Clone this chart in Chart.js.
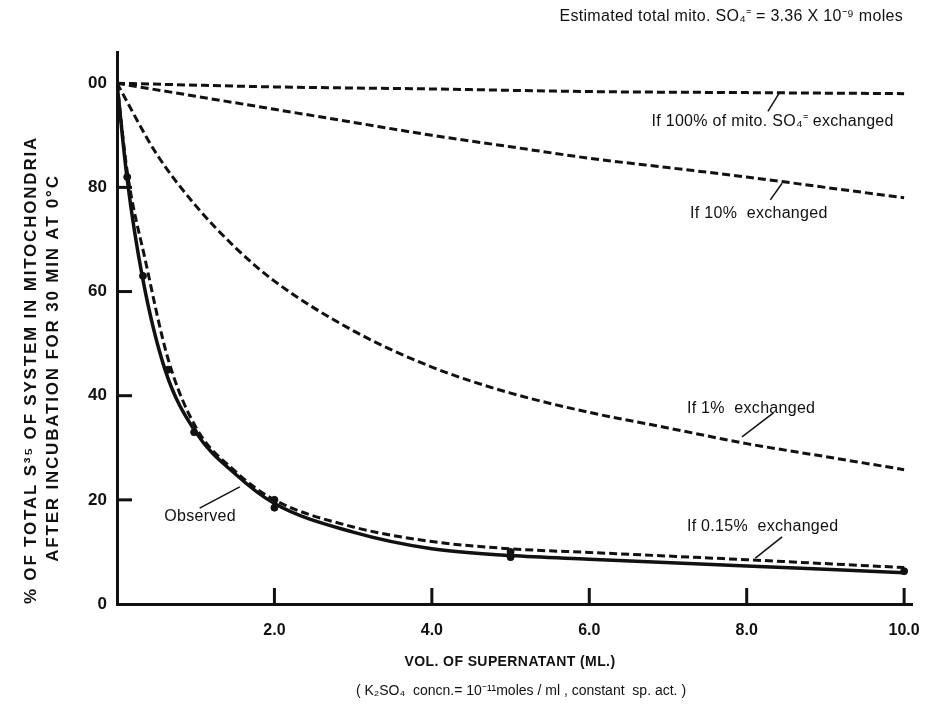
<!DOCTYPE html>
<html>
<head>
<meta charset="utf-8">
<script src="https://cdn.jsdelivr.net/npm/chart.js@4"></script>
<style>
  html, body { margin: 0; padding: 0; background: #fff; }
  #wrap { width: 941px; height: 704px; }
</style>
</head>
<body>
<div id="wrap"><canvas id="chart" width="941" height="704"></canvas></div>
<script>
// volume of supernatant (ml) and % of total S35 left in mitochondria
const vol100 = [0, 2, 4, 6, 8, 10];
const pct100 = [100, 99.3, 98.9, 98.4, 98.2, 98.0];

const vol10 = [0, 1, 2, 3, 4, 5, 6, 7, 8, 9, 10];
const pct10 = [100, 97.5, 95, 92.5, 90, 87.8, 85.6, 83.8, 82, 80, 78];

const vol1 = [0, 0.5, 1, 1.5, 2, 3, 4, 5, 6, 7, 8, 9, 10];
const pct1 = [100, 86.5, 76.5, 68.5, 62, 52.5, 45.5, 40.5, 36.8, 33.8, 30.8, 28.3, 25.8];

const vol015 = [0, 0.13, 0.36, 0.65, 1.0, 1.5, 2, 3, 4, 5, 6, 8, 10];
const pct015 = [100, 83, 66, 47, 34, 25.5, 20, 14.8, 12, 10.6, 9.9, 8.5, 7.0];

const volObs = [0, 0.13, 0.32, 0.61, 1.0, 1.5, 2, 3, 4, 5, 6, 8, 10];
const pctObs = [100, 81.5, 63, 45, 33, 25, 19.3, 13.8, 10.6, 9.3, 8.6, 7.3, 6];

// measured points on the observed curve
const ptVol = [0.13, 0.33, 0.65, 0.98, 2, 2, 5, 5, 10];
const ptPct = [82, 63, 45, 33, 20, 18.5, 10, 9, 6.3];

const xTicks = [2, 4, 6, 8, 10];
const xTickLabels = ['2.0', '4.0', '6.0', '8.0', '10.0'];
const yTicks = [0, 20, 40, 60, 80, 100];
const yTickLabels = ['0', '20', '40', '60', '80', '00'];

// leader lines from curve labels to the curves (data units)
const leaders = [
  [[8.42, 98.3], [8.27, 94.6]],
  [[8.45, 80.8], [8.30, 77.6]],
  [[8.34, 36.7], [7.94, 32.1]],
  [[8.45, 12.9], [8.11, 8.8]],
  [[1.56, 22.5], [1.05, 18.4]]
];

const curveLabels = [
  { text: 'If 100% of mito. SO\u2084\u207C exchanged', x: 6.79, y: 92.6 },
  { text: 'If 10%  exchanged', x: 7.28, y: 74.9 },
  { text: 'If 1%  exchanged', x: 7.24, y: 37.6 },
  { text: 'If 0.15%  exchanged', x: 7.24, y: 14.8 },
  { text: 'Observed', x: 0.60, y: 16.7 }
];

const zip = (xs, ys) => xs.map((x, i) => ({ x: x, y: ys[i] }));
const INK = '#111';
const FONT = '"Liberation Sans", Arial, sans-serif';

function dashed(data) {
  return {
    data: data,
    borderColor: INK,
    borderWidth: 3,
    borderDash: [8, 4],
    pointRadius: 0,
    cubicInterpolationMode: 'monotone',
    fill: false
  };
}

let datasets = [
  dashed(zip(vol100, pct100)),
  dashed(zip(vol10, pct10)),
  dashed(zip(vol1, pct1)),
  dashed(zip(vol015, pct015)),
  {
    data: zip(volObs, pctObs),
    borderColor: INK,
    borderWidth: 3.5,
    pointRadius: 0,
    cubicInterpolationMode: 'monotone',
    fill: false
  },
  {
    data: zip(ptVol, ptPct),
    showLine: false,
    pointRadius: 3.5,
    pointBackgroundColor: INK,
    pointBorderColor: INK
  }
];

leaders.forEach(l => datasets.push({
  data: l.map(p => ({ x: p[0], y: p[1] })),
  borderColor: INK,
  borderWidth: 1.5,
  pointRadius: 0,
  fill: false
}));

const decorations = {
  id: 'decorations',
  afterDraw(chart) {
    const ctx = chart.ctx;
    const xs = chart.scales.x, ys = chart.scales.y;
    const area = chart.chartArea;
    ctx.save();
    ctx.strokeStyle = INK;
    ctx.fillStyle = INK;
    ctx.lineWidth = 3;

    // inward tick marks
    yTicks.slice(1, 5).forEach(v => {
      const py = ys.getPixelForValue(v);
      ctx.beginPath();
      ctx.moveTo(area.left, py);
      ctx.lineTo(area.left + 15, py);
      ctx.stroke();
    });
    xTicks.forEach(v => {
      const px = xs.getPixelForValue(v);
      ctx.beginPath();
      ctx.moveTo(px, area.bottom);
      ctx.lineTo(px, area.bottom - 16);
      ctx.stroke();
    });

    // curve labels
    ctx.font = '16px ' + FONT;
    ctx.letterSpacing = '0.3px';
    ctx.textAlign = 'left';
    ctx.textBaseline = 'middle';
    curveLabels.forEach(l => {
      ctx.fillText(l.text, xs.getPixelForValue(l.x), ys.getPixelForValue(l.y));
    });

    // note at top right
    ctx.textAlign = 'right';
    ctx.font = '16px ' + FONT;
    ctx.fillText('Estimated total mito. SO\u2084\u207C = 3.36 X 10\u207B\u2079 moles', 903, 17);

    // axis titles
    ctx.textAlign = 'center';
    ctx.letterSpacing = '0.4px';
    ctx.font = 'bold 14px ' + FONT;
    ctx.fillText('VOL. OF SUPERNATANT (ML.)', 510, 662);
    ctx.letterSpacing = '0px';
    ctx.font = '14px ' + FONT;
    ctx.fillText('( K\u2082SO\u2084  concn.= 10\u207B\u00B9\u00B9moles / ml , constant  sp. act. )', 521, 691);

    ctx.font = 'bold 17px ' + FONT;
    ctx.letterSpacing = '1.8px';
    ctx.save();
    ctx.translate(31, 370);
    ctx.rotate(-Math.PI / 2);
    ctx.fillText('% OF TOTAL S\u00B3\u2075 OF SYSTEM IN MITOCHONDRIA', 0, 0);
    ctx.restore();
    ctx.save();
    ctx.translate(53, 368);
    ctx.rotate(-Math.PI / 2);
    ctx.fillText('AFTER INCUBATION FOR 30 MIN AT 0\u00B0C', 0, 0);
    ctx.restore();

    ctx.restore();
  }
};

new Chart(document.getElementById('chart'), {
  type: 'line',
  data: { datasets: datasets },
  options: {
    responsive: false,
    animation: false,
    layout: { padding: { left: 0, right: 29, top: 52, bottom: 0 } },
    plugins: {
      legend: { display: false },
      tooltip: { enabled: false }
    },
    scales: {
      x: {
        type: 'linear',
        min: 0,
        max: 10.1,
        afterFit: s => { s.height = 100; },
        afterBuildTicks: s => { s.ticks = xTicks.map(v => ({ value: v })); },
        grid: { display: false, drawTicks: false },
        border: { display: true, color: INK, width: 3 },
        ticks: {
          padding: 17,
          color: INK,
          font: { family: FONT, size: 16, weight: 'bold' },
          callback: (v) => xTickLabels[xTicks.indexOf(v)]
        }
      },
      y: {
        type: 'linear',
        min: 0,
        max: 106,
        afterFit: s => { s.width = 117; },
        afterBuildTicks: s => { s.ticks = yTicks.map(v => ({ value: v })); },
        grid: { display: false, drawTicks: false },
        border: { display: true, color: INK, width: 3 },
        ticks: {
          padding: 10,
          color: INK,
          font: { family: FONT, size: 17, weight: 'bold' },
          callback: (v) => yTickLabels[yTicks.indexOf(v)]
        }
      }
    }
  },
  plugins: [decorations]
});
</script>
</body>
</html>
